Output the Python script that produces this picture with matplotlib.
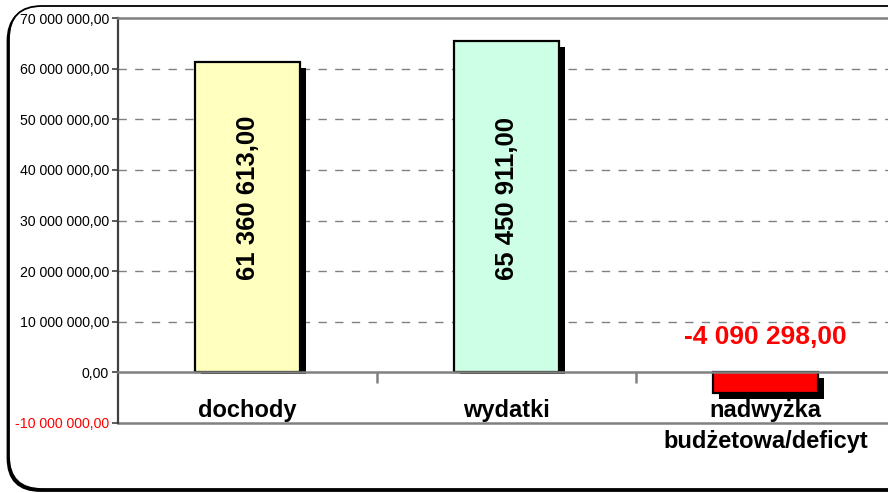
import matplotlib
matplotlib.use("Agg")
import matplotlib.pyplot as plt
from matplotlib.patches import FancyBboxPatch
from matplotlib.transforms import ScaledTranslation

plt.rcParams['font.family'] = ['Liberation Sans', 'DejaVu Sans']

categories = ["dochody", "wydatki", "nadwyżka\nbudżetowa/deficyt"]
values = [61360613.00, 65450911.00, -4090298.00]
bar_colors = ["#FFFFC0", "#CCFFE6", "#FF0000"]
yticks = [-10e6, 0, 10e6, 20e6, 30e6, 40e6, 50e6, 60e6, 70e6]


def fmt(v):
    s = f"{abs(v):,.2f}".replace(",", " ").replace(".", ",")
    return ("-" if v < 0 else "") + s


W, H = 888, 493
fig = plt.figure(figsize=(W / 100, H / 100), dpi=100)

# outer rounded frame with a slight shadow at bottom-left
for dx, dy, fc, z in [(-1.5, -2.0, "black", -3), (0, 0, "white", -2)]:
    frame = FancyBboxPatch(((9 + dx) / 100, (4 + dy) / 100), (W + 40 - 9) / 100, (488 - 5) / 100,
                           boxstyle="round,pad=0,rounding_size=0.33",
                           transform=fig.dpi_scale_trans, facecolor=fc,
                           edgecolor="black", linewidth=1.3, zorder=z)
    fig.add_artist(frame)

ax = fig.add_axes([118 / W, (H - 423) / H, 777 / W, (423 - 18) / H])
ax.set_facecolor("none")
ax.set_xlim(-0.5, 2.5)
ax.set_ylim(-10e6, 70e6)

x = list(range(len(categories)))
bw = 0.405

# shadows (offset down-right; positive bars' shadows stop just below the baseline)
px = 80e6 / 405.0  # data units per pixel
shadow_tr = ax.transData + ScaledTranslation(6 / 100, -6 / 100, fig.dpi_scale_trans)
for xi, v in zip(x, values):
    b = 4 * px if v > 0 else 0
    ax.bar([xi], [v - b], bottom=b, width=bw, color="black", linewidth=0,
           transform=shadow_tr, zorder=2)
ax.bar(x, values, width=bw, color=bar_colors, edgecolor="black", linewidth=1.6, zorder=3)

# grid
for v in yticks[2:-1]:
    ax.axhline(v, color="#808080", linestyle=(0, (6, 6)), linewidth=1.0, zorder=1)
ax.axhline(yticks[0], color="#808080", linewidth=1.8, zorder=1, clip_on=False)

ax.spines["right"].set_visible(False)
ax.spines["top"].set_color("#808080")
ax.spines["top"].set_linewidth(1.8)
ax.spines["left"].set_color("#404040")
ax.spines["left"].set_linewidth(1.6)
ax.spines["bottom"].set_position(("data", 0))
ax.spines["bottom"].set_color("#808080")
ax.spines["bottom"].set_linewidth(1.8)
ax.spines["bottom"].set_zorder(4)

ax.set_yticks(yticks)
ax.set_yticklabels([fmt(v) for v in yticks], fontsize=10.2)
for lab, v in zip(ax.get_yticklabels(), yticks):
    if v < 0:
        lab.set_color("red")
ax.tick_params(axis="y", direction="out", length=4, width=1.2, color="#404040", pad=2.5)

ax.set_xticks(x)
ax.set_xticklabels([])
ax.tick_params(axis="x", which="major", length=0)
ax.set_xticks([0.5, 1.5], minor=True)
ax.tick_params(axis="x", which="minor", direction="out", length=8, width=1.8, color="#808080")

# category labels
for xi, c in zip(x, categories):
    ax.text(xi, -5.3e6, c, ha="center", va="top", fontsize=17, fontweight="bold",
            linespacing=1.45, zorder=5, clip_on=False)

# value labels
for xi, v in zip(x, values):
    if v >= 0:
        ax.text(xi, 18.2e6, fmt(v), rotation=90, ha="center", va="bottom",
                fontsize=18.5, fontweight="bold", color="black", zorder=5)
    else:
        ax.text(xi, 6.9e6, fmt(v), ha="center", va="center",
                fontsize=19, fontweight="bold", color="red", zorder=5)

fig.savefig("out.png", dpi=100)
